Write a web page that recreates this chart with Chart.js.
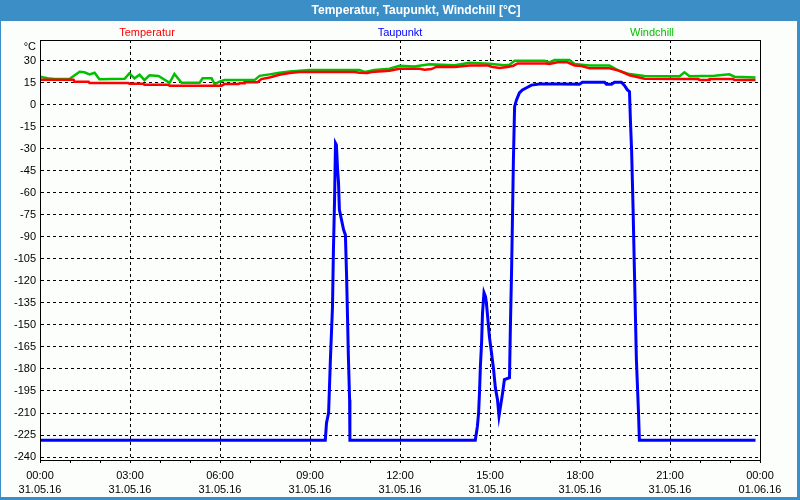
<!DOCTYPE html>
<html><head><meta charset="utf-8">
<script src="https://cdn.jsdelivr.net/npm/chart.js@4/dist/chart.umd.min.js"></script>
<style>html,body{margin:0;padding:0;background:#fff}canvas{display:block}</style>
</head><body>
<canvas id="c" width="800" height="500"></canvas>
<script>
const titleText = 'Temperatur, Taupunkt, Windchill [°C]';
const unitLabel = '°C';
const seriesNames = ['Temperatur', 'Taupunkt', 'Windchill'];
const seriesColors = ['#ff0000', '#0000ff', '#00c000'];
const yTicks = [30, 15, 0, -15, -30, -45, -60, -75, -90, -105, -120, -135, -150, -165, -180, -195, -210, -225, -240];
const xTimeLabels = ['00:00', '03:00', '06:00', '09:00', '12:00', '15:00', '18:00', '21:00', '00:00'];
const xDateLabels = ['31.05.16', '31.05.16', '31.05.16', '31.05.16', '31.05.16', '31.05.16', '31.05.16', '31.05.16', '01.06.16'];

// hours since 00:00 on 31.05.16
const tempHours = [0, 1.12, 1.15, 1.62, 1.65, 2.95, 2.98, 3.45, 3.48, 4.28, 4.32, 6.05, 6.15, 6.62, 6.65, 6.8, 6.82, 7.25, 7.38, 7.65, 7.98, 8.32, 8.65, 10.48, 10.65, 10.92, 11.05, 11.65, 11.98, 12.65, 12.82, 13.05, 13.22, 13.82, 14.32, 14.92, 15.05, 15.32, 15.58, 15.78, 15.92, 16.85, 16.98, 17.25, 17.58, 17.82, 18.05, 18.32, 18.98, 19.32, 19.65, 20.15, 21.32, 21.95, 21.98, 22.3, 22.32, 23.1, 23.15, 23.85];
const tempValues = [16.9, 16.9, 15.6, 15.6, 14.7, 14.7, 14.2, 14.2, 13.5, 13.5, 12.9, 12.9, 14, 14, 14.5, 14.5, 15.2, 15.2, 17.4, 18.5, 20.3, 21.5, 22.2, 22.2, 21.7, 21.5, 22.2, 23, 24.4, 24.4, 23.8, 24.2, 25.8, 25.6, 26.7, 26.7, 25.8, 25, 25.6, 26.5, 28, 28, 27.6, 28.8, 28.8, 26.7, 26.3, 24.7, 24.7, 23, 20, 17.6, 17.4, 17.4, 16.8, 16.8, 17.4, 17.4, 16.8, 16.8];

const dewHours = [0, 9.51, 9.55, 9.62, 9.68, 9.75, 9.78, 9.82, 9.85, 9.88, 9.92, 9.95, 9.98, 10.05, 10.12, 10.18, 10.22, 10.25, 10.28, 10.32, 10.33, 14.51, 14.58, 14.62, 14.65, 14.68, 14.72, 14.75, 14.8, 14.85, 14.88, 14.92, 14.98, 15.05, 15.12, 15.18, 15.25, 15.3, 15.35, 15.42, 15.48, 15.65, 15.68, 15.72, 15.75, 15.78, 15.82, 15.88, 15.98, 16.08, 16.22, 16.38, 16.65, 17.32, 17.98, 18.08, 18.82, 18.88, 19.05, 19.15, 19.38, 19.48, 19.58, 19.65, 19.68, 19.72, 19.77, 19.82, 19.88, 19.95, 19.98, 23.85];
const dewValues = [-228.5, -228.5, -216.8, -209.8, -173.7, -137.5, -100, -63.7, -26.3, -27.5, -44.5, -53, -71.7, -78.5, -85.3, -88.7, -117, -144, -172, -201, -228.5, -228.5, -219, -210, -196, -178, -162, -142, -128, -130.7, -135, -144, -158, -169, -180.5, -193, -201, -212, -205.5, -196.4, -187.3, -186, -151, -112.5, -76, -37.7, -1.4, 3, 8, 10, 11.5, 13.3, 14, 14, 13.8, 15.2, 15.2, 13.8, 13.8, 15.2, 15.2, 13.1, 10, 8.8, -10.5, -31, -71.7, -119, -173.7, -209.8, -228.5, -228.5];

const chillHours = [0, 0.25, 0.48, 0.98, 1.32, 1.48, 1.65, 1.82, 1.98, 2.82, 2.98, 3.15, 3.32, 3.48, 3.65, 3.95, 4.32, 4.48, 4.72, 5.32, 5.42, 5.72, 5.82, 5.98, 6.15, 7.15, 7.32, 7.65, 7.98, 8.32, 8.98, 10.65, 10.82, 11.15, 11.65, 11.98, 12.48, 12.98, 13.82, 14.32, 14.98, 15.48, 15.65, 15.82, 16.82, 16.98, 17.15, 17.65, 17.82, 18.32, 18.98, 19.32, 19.65, 20.15, 21.32, 21.48, 21.65, 22.48, 22.98, 23.15, 23.85];
const chillValues = [19, 18, 17.4, 17.4, 22.4, 22, 20.6, 21.7, 17.2, 17.6, 21.3, 17.9, 20.4, 16.7, 20, 19.5, 14.9, 20.8, 14.9, 14.9, 17.9, 17.9, 14, 15.6, 16.7, 16.7, 19.6, 20.6, 21.7, 22.5, 23.5, 23.5, 22.2, 23.5, 24.4, 26.5, 26, 27.4, 26.8, 28.5, 27.8, 26.8, 27.2, 29.9, 29.9, 28.8, 30.3, 30.3, 27.6, 26.7, 26.7, 22.9, 20.8, 19.5, 19.3, 22, 19.3, 19.6, 20.6, 19, 18.5];

const toPoints = (hs, vs) => hs.map((h, i) => ({ x: h, y: vs[i] }));

const FONT = 'Liberation Sans';
Chart.defaults.font.family = FONT;
Chart.defaults.font.size = 11;
Chart.defaults.color = '#000';

const framePlugin = {
  id: 'frame',
  beforeDraw(chart) {
    const ctx = chart.ctx;
    ctx.save();
    ctx.fillStyle = '#3c8fc6';
    ctx.fillRect(0, 0, 800, 500);
    ctx.fillStyle = '#fcfefc';
    ctx.fillRect(1, 21, 796, 476);
    ctx.restore();
  },
  afterDraw(chart) {
    const ctx = chart.ctx;
    const a = chart.chartArea;
    ctx.save();
    ctx.strokeStyle = '#000';
    ctx.lineWidth = 1;
    ctx.setLineDash([]);
    ctx.strokeRect(Math.round(a.left) + 0.5, Math.round(a.top) + 0.5, Math.round(a.right - a.left), Math.round(a.bottom - a.top));
    // title
    ctx.fillStyle = '#ffffff';
    ctx.font = 'bold 12px ' + FONT;
    ctx.textAlign = 'center';
    ctx.textBaseline = 'alphabetic';
    ctx.fillText(titleText, 416, 14);
    // series labels
    ctx.font = '11px ' + FONT;
    const fr = [0.1486, 0.5, 0.85];
    seriesNames.forEach((n, i) => {
      ctx.fillStyle = seriesColors[i];
      ctx.fillText(n, a.left + (a.right - a.left) * fr[i], 36);
    });
    // unit
    ctx.fillStyle = '#000';
    ctx.textAlign = 'right';
    ctx.fillText(unitLabel, 36, 50);
    ctx.restore();
  }
};

new Chart(document.getElementById('c'), {
  type: 'line',
  data: {
    datasets: [
      { label: seriesNames[0], data: toPoints(tempHours, tempValues), borderColor: seriesColors[0], borderWidth: 2.5 },
      { label: seriesNames[1], data: toPoints(dewHours, dewValues), borderColor: seriesColors[1], borderWidth: 3 },
      { label: seriesNames[2], data: toPoints(chillHours, chillValues), borderColor: seriesColors[2], borderWidth: 2.5 }
    ]
  },
  options: {
    responsive: false,
    animation: false,
    parsing: true,
    elements: { point: { radius: 0 }, line: { tension: 0, fill: false } },
    layout: { padding: { top: 40, right: 40, left: 0, bottom: 0 } },
    plugins: { legend: { display: false }, tooltip: { enabled: false }, title: { display: false } },
    scales: {
      x: {
        type: 'linear',
        min: 0, max: 24,
        afterFit(s) { s.height = 40; },
        ticks: {
          stepSize: 1,
          autoSkip: false,
          maxRotation: 0,
          padding: 6,
          font: { size: 11, lineHeight: 14 / 11 },
          color: '#000',
          callback(v) {
            if (v % 3 !== 0) return '';
            const i = v / 3;
            return [xTimeLabels[i], xDateLabels[i]];
          }
        },
        grid: {
          color: (c) => (c.tick && c.tick.value % 3 === 0) ? '#000' : 'rgba(0,0,0,0)',
          tickColor: '#000',
          tickLength: 3,
          lineWidth: 1
        },
        border: { display: true, color: '#000', width: 1, dash: [3, 3] }
      },
      y: {
        type: 'linear',
        min: -242, max: 44,
        afterFit(s) { s.width = 40; },
        afterBuildTicks(s) { s.ticks = yTicks.map(v => ({ value: v })); },
        ticks: {
          padding: 4,
          color: '#000',
          font: { size: 11 },
          callback(v) { return String(v); }
        },
        grid: { color: '#000', drawTicks: false, lineWidth: 1 },
        border: { display: true, color: '#000', width: 1, dash: [3, 3] }
      }
    }
  },
  plugins: [framePlugin]
});
</script>
</body></html>
